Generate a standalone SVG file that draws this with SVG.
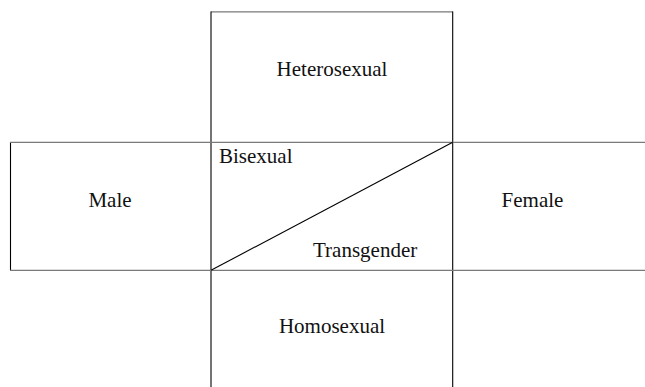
<svg xmlns="http://www.w3.org/2000/svg" width="645" height="387" viewBox="0 0 645 387">
<style>
.h{stroke:#7a7a7a;stroke-width:1.3;fill:none}
.v{stroke:#000;stroke-width:1.1;fill:none}
.t{font-family:"Liberation Serif","Times New Roman",serif;font-size:21px;fill:#111}
</style>
<rect width="645" height="387" fill="#fff"/>
<g id="heterosexual">
<line class="h" x1="211" y1="11.8" x2="453" y2="11.8"/>
<text class="t" x="332" y="76" text-anchor="middle">Heterosexual</text>
</g>
<g id="male">
<line class="v" x1="10.5" y1="142" x2="10.5" y2="270.5"/>
<text class="t" x="110" y="206.5" text-anchor="middle">Male</text>
</g>
<g id="female">
<text class="t" x="532.5" y="206.5" text-anchor="middle">Female</text>
</g>
<g id="bisexual">
<text class="t" x="219" y="162.5">Bisexual</text>
</g>
<g id="transgender">
<text class="t" x="313" y="257.3">Transgender</text>
</g>
<g id="homosexual">
<text class="t" x="332" y="332.5" text-anchor="middle">Homosexual</text>
</g>
<g id="connectors">
<line class="v" x1="211" y1="11.5" x2="211" y2="387"/>
<line class="v" x1="452.7" y1="11.5" x2="452.7" y2="387"/>
<line class="h" x1="10" y1="142.3" x2="645" y2="142.3"/>
<line class="h" x1="10" y1="270.3" x2="645" y2="270.3"/>
<line stroke="#000" stroke-width="1.1" x1="211" y1="270.3" x2="452.7" y2="142.3"/>
</g>
</svg>
